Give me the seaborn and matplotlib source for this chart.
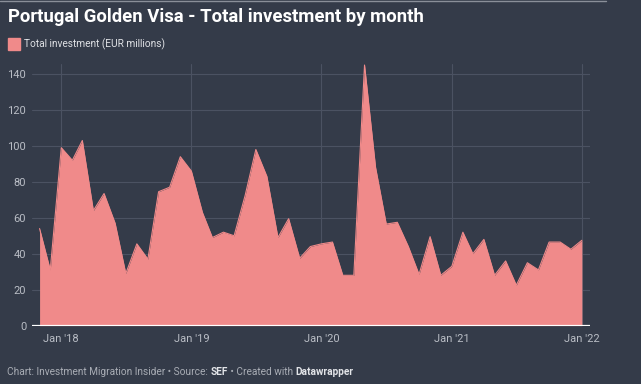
import pandas as pd
import matplotlib
matplotlib.use('Agg')
import matplotlib.pyplot as plt
from matplotlib.patches import Rectangle
from matplotlib.lines import Line2D
import seaborn as sns

# monthly totals, Nov 2017 - Jan 2022
months = pd.date_range('2017-11-01', '2022-01-01', freq='MS')
investment = [54, 31,
              99, 92, 103, 64, 73.5, 57, 29, 45.5, 37, 74.5, 77, 94,
              86, 63, 49, 52, 50, 72.5, 98, 83, 49, 59.5, 37.5, 44,
              45.5, 46.5, 28, 28, 145, 88, 56.5, 57.5, 44, 28.5, 49.5, 28,
              33, 52, 40, 48, 28, 36, 22.5, 35, 31, 46.5, 46.5, 42.5,
              47.5]
year_ticks = pd.to_datetime(['2018-01-01', '2019-01-01', '2020-01-01', '2021-01-01', '2022-01-01'])
year_labels = ["Jan '18", "Jan '19", "Jan '20", "Jan '21", "Jan '22"]
y_ticks = [0, 20, 40, 60, 80, 100, 120, 140]

df = pd.DataFrame({'month': months, 'investment': investment})

bg = '#343b49'
fill = '#f08a8a'
grid = '#4b5262'
tick_col = '#b9bdc5'

sns.set_theme(style='dark')
plt.rcParams['font.family'] = ['Roboto', 'DejaVu Sans']

fig = plt.figure(figsize=(6.41, 3.84), dpi=100, facecolor=bg)
ax = fig.add_axes([0.0495, 0.152, 0.8705, 0.681])
ax.set_facecolor(bg)

sns.lineplot(data=df, x='month', y='investment', ax=ax, color=fill, linewidth=0.8)
ax.fill_between(df['month'], df['investment'], color=fill, linewidth=0, zorder=2)

pad = pd.Timedelta(days=22)
ax.set_xlim(months[0] - pad, months[-1] + pad)
ax.set_ylim(0, 145.5)

ax.set_xticks(year_ticks)
ax.set_xticklabels(year_labels)
ax.set_yticks(y_ticks)
ax.grid(True, color=grid, linewidth=0.8, zorder=0)
ax.set_axisbelow(True)
ax.axhline(0, color='white', linewidth=1.6, zorder=3)

ax.tick_params(axis='both', length=0, colors=tick_col, labelsize=8)
ax.tick_params(axis='x', pad=6)
ax.tick_params(axis='y', pad=4)
ax.set_xlabel('')
ax.set_ylabel('')
for s in ax.spines.values():
    s.set_visible(False)

# thin line along the top edge of the screenshot
fig.add_artist(Line2D([0, 606 / 641], [0.998, 0.998], transform=fig.transFigure,
                      color='#8a8f99', linewidth=1))

# title and legend
fig.text(0.0125, 0.957, 'Portugal Golden Visa - Total investment by month',
         color='white', fontsize=13.3, fontweight='bold', va='center', ha='left')
fig.patches.append(Rectangle((8 / 641, 1 - 50 / 384), 12 / 641, 12 / 384,
                             transform=fig.transFigure, color=fill, figure=fig))
fig.text(24 / 641, 1 - 44 / 384, 'Total investment (EUR millions)',
         color='#dfe1e5', fontsize=7.3, va='center', ha='left')

# footer with bold parts
parts = [('Chart: Investment Migration Insider \u2022 Source: ', 'normal', '#a9adb5'),
         ('SEF', 'bold', '#e2e4e8'),
         (' \u2022 Created with ', 'normal', '#a9adb5'),
         ('Datawrapper', 'bold', '#e2e4e8')]
renderer = fig.canvas.get_renderer()
x = 7 / 641
for txt, w, c in parts:
    t = fig.text(x, 1 - 372 / 384, txt, color=c, fontsize=7.3, fontweight=w,
                 va='center', ha='left')
    bb = t.get_window_extent(renderer=renderer)
    x += bb.width / fig.bbox.width

fig.savefig('out.png', dpi=100, facecolor=bg)
